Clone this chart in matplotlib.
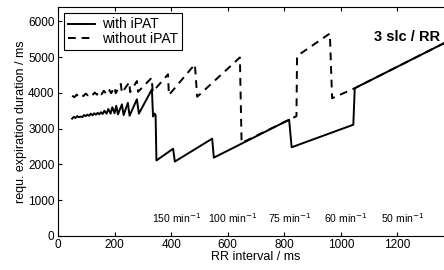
import matplotlib
matplotlib.use('Agg')
import matplotlib.pyplot as plt

plt.rcParams['font.family'] = ['Liberation Sans', 'DejaVu Sans']

# with iPAT (solid)
with_x = [50, 56, 62, 68, 74, 80, 86, 92, 98, 104, 110, 116, 122, 128, 134,
          140, 146, 152, 158, 164, 172, 178, 186, 192, 200, 206, 212, 226,
          232, 247, 253, 279, 286, 332, 336, 341, 345, 348, 407, 413, 545,
          551, 817, 826, 1044, 1049, 1400]
with_y = [3280, 3330, 3300, 3350, 3320, 3340, 3320, 3380, 3350, 3390, 3360,
          3420, 3370, 3430, 3390, 3440, 3400, 3460, 3410, 3500, 3420, 3550,
          3420, 3600, 3430, 3640, 3400, 3680, 3380, 3720, 3360, 3820, 3420,
          4100, 3340, 3420, 3380, 2110, 2440, 2080, 2720, 2190, 3250, 2480,
          3110, 4130, 5530]

# without iPAT (dashed)
without_x = [50, 58, 66, 74, 82, 90, 98, 106, 114, 122, 130, 138, 146, 154,
             162, 170, 180, 188, 200, 204, 222, 226, 252, 255, 279, 283, 331,
             335, 389, 392, 484, 492, 643, 649, 817, 843, 845, 961, 969, 1049,
             1400]
without_y = [3920, 3880, 3950, 3900, 3960, 3910, 3980, 3930, 3990, 3940, 4010,
             3950, 4040, 3960, 4060, 3980, 4100, 3990, 4160, 3990, 4250, 4000,
             4300, 4020, 4330, 4030, 4420, 4030, 4520, 3940, 4800, 3890, 4990,
             2600, 3250, 3350, 5030, 5660, 3850, 4130, 5530]

rates = [150, 100, 75, 60, 50]

fig = plt.figure(figsize=(4.44, 2.70), dpi=100)
ax = fig.add_axes([0.1306, 0.126, 0.892, 0.848])

ax.plot(with_x, with_y, color='black', lw=1.4, label='with iPAT')
ax.plot(without_x, without_y, color='black', lw=1.4, ls=(0, (4, 3)),
        label='without iPAT')

for r in rates:
    ax.text(60000 / r + 18, 500, '%d min$^{-1}$' % r, ha='center',
            va='center', fontsize=7.5)

ax.text(1350, 5570, '3 slc / RR', ha='right', va='center', fontsize=10.5,
        fontweight='bold')

ax.set_xlim(0, 1400)
ax.set_ylim(0, 6400)
ax.set_xticks(range(0, 1201, 200))
ax.set_yticks(range(0, 6001, 1000))
ax.tick_params(direction='in', length=3, width=0.8, labelsize=8.5, top=True,
               right=False, pad=2.5)
for s in ax.spines.values():
    s.set_linewidth(0.8)
ax.spines['right'].set_visible(False)

ax.set_xlabel('RR interval / ms', fontsize=9, labelpad=0)
ax.set_ylabel('requ. expiration duration / ms', fontsize=9, labelpad=1)

leg = ax.legend(loc='upper left', fontsize=10, handlelength=1.9,
                handletextpad=0.5, borderpad=0.3, labelspacing=0.05,
                fancybox=False, edgecolor='black', framealpha=1,
                borderaxespad=0.45)
leg.get_frame().set_linewidth(0.8)

fig.savefig('out.png', dpi=100)
